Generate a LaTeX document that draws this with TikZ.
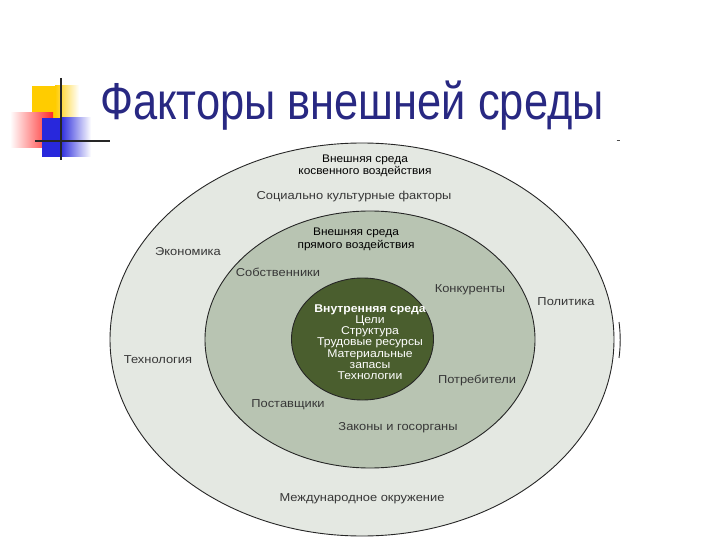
\documentclass[tikz,border=0pt]{standalone}
\usepackage{fontspec}
\setmainfont{Liberation Sans}
\begin{document}
\definecolor{outerfill}{RGB}{228,232,226}
\definecolor{midfill}{RGB}{184,196,178}
\definecolor{innerfill}{RGB}{74,94,46}
\definecolor{titleblue}{RGB}{40,40,130}
\definecolor{labelgrey}{RGB}{55,55,55}
\definecolor{decoyellow}{RGB}{255,204,0}
\definecolor{decored}{RGB}{255,40,40}
\definecolor{decoblue}{RGB}{40,40,220}
\begin{tikzpicture}[x=1pt,y=-1pt,
  ring/.style={draw=black!85, line width=0.9pt},
  lbl/.style={font=\fontsize{11.5}{12}\selectfont, text=labelgrey, inner sep=0pt, xscale=1.12},
  head/.style={font=\fontsize{11}{12.5}\selectfont, text=black, align=center, inner sep=0pt, xscale=1.08},
  inner/.style={font=\fontsize{11.3}{11.2}\selectfont, text=white, align=center, inner sep=0pt, xscale=1.08},
  decoline/.style={draw=black!85, line width=2pt}]
\useasboundingbox (0,0) rectangle (720,540);
% decoration
\fill[decoyellow] (32,86) rectangle (55,128);
\shade[left color=decoyellow, right color=white] (55,86) rectangle (79,128);
\shade[left color=white, right color=decored] (10,113) rectangle (53,148);
\fill[decoblue] (42,118) rectangle (60,157);
\shade[left color=decoblue, right color=white] (60,118) rectangle (91,157);
\draw[decoline] (61,78) -- (61,160);
\draw[decoline] (35,141) -- (110,141);
\draw[black!70, line width=0.8pt] (616.5,140) -- (619.5,140);
% title
\node[anchor=base west, inner sep=0pt, text=titleblue, font=\fontsize{52}{60}\selectfont, xscale=0.835] (title) at (100,120) {Факторы внешней среды};
% ellipses
\draw[ring, fill=outerfill] (362,339.5) ellipse [x radius=252, y radius=196.5];
\draw[black!85, line width=0.9pt] (619,322) arc[start angle=-20, end angle=20, x radius=20, y radius=52.6];
\draw[ring, fill=midfill] (370,339.5) ellipse [x radius=165, y radius=128.5];
\draw[ring, fill=innerfill] (362.5,339) ellipse [x radius=71, y radius=61];
% outer labels
\node[head] (ind) at (365,166) {Внешняя среда\\косвенного воздействия};
\node[lbl] (soc) at (354,197) {Социально культурные факторы};
\node[lbl] (eco) at (188,252) {Экономика};
\node[lbl] (pol) at (566,302) {Политика};
\node[lbl] (tech) at (158,360) {Технология};
\node[lbl] (intl) at (362,499) {Международное окружение};
% middle labels
\node[head] (dir) at (356,239.5) {Внешняя среда\\прямого воздействия};
\node[lbl] (own) at (278,272) {Собственники};
\node[lbl] (comp) at (470,290) {Конкуренты};
\node[lbl] (cons) at (477,380) {Потребители};
\node[lbl] (sup) at (288,405) {Поставщики};
\node[lbl] (law) at (398,428) {Законы и госорганы};
% inner
\node[inner] (int) at (370,342) {\textbf{Внутренняя среда}\\Цели\\Структура\\Трудовые ресурсы\\Материальные\\запасы\\Технологии};
\end{tikzpicture}
\end{document}
